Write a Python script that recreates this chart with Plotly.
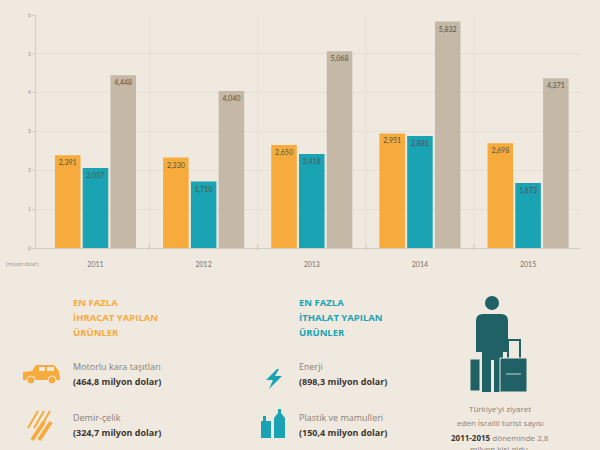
import plotly.graph_objects as go

# Türkiye - İsrail ticareti (milyar dolar)
years = ["2011", "2012", "2013", "2014", "2015"]
ihracat = [2.391, 2.330, 2.650, 2.951, 2.698]
ithalat = [2.057, 1.710, 2.418, 2.881, 1.673]
hacim = [4.448, 4.040, 5.068, 5.832, 4.371]
y_ticks = [0, 1, 2, 3, 4, 5, 6]

ORANGE = "#F6AB3C"
TEAL = "#1AA3B3"
BEIGE = "#C5B8A6"
DARK = "#1F6165"
BG = "#EFE9E0"
FONT = "Open Sans"

W, H = 600, 450
L, R, T, B = 36, 20, 15, 202
PW, PH = W - L - R, H - T - B


def px(x):
    return (x - L) / PW


def py(y):
    return (H - B - y) / PH


def fmt(v):
    return f"{v:.3f}".replace(".", ",")


fig = go.Figure()
for vals, col in [(ihracat, ORANGE), (ithalat, TEAL), (hacim, BEIGE)]:
    fig.add_trace(go.Bar(
        x=years, y=vals, marker=dict(color=col, line=dict(width=0)),
        text=[fmt(v) for v in vals], textposition="inside",
        insidetextanchor="end", textangle=0,
        textfont=dict(size=7, color="#5b5044", family="Lato"),
        hoverinfo="skip", showlegend=False,
    ))

shapes = []
# vertical dividers between years
for i in range(5):
    shapes.append(dict(type="line", xref="x", yref="paper", x0=i + 0.5, x1=i + 0.5,
                       y0=0, y1=1, line=dict(color="#E6DFD5", width=1), layer="below"))
    shapes.append(dict(type="line", xref="x", yref="paper", x0=i + 0.5, x1=i + 0.5,
                       y0=-0.01, y1=0.015, line=dict(color="#CFC7BC", width=1)))

# car icon
shapes += [
    dict(type="path", xref="paper", yref="paper",
         path=f"M {px(23)},{py(380)} L {px(23)},{py(372)} L {px(32)},{py(371)} L {px(36)},{py(365)} "
              f"L {px(54)},{py(365)} L {px(59)},{py(371)} L {px(60)},{py(380)} Z",
         fillcolor=ORANGE, line=dict(width=0)),
    dict(type="circle", xref="paper", yref="paper", x0=px(27), x1=px(35), y0=py(384), y1=py(376),
         fillcolor=ORANGE, line=dict(color=BG, width=1)),
    dict(type="circle", xref="paper", yref="paper", x0=px(48), x1=px(56), y0=py(384), y1=py(376),
         fillcolor=ORANGE, line=dict(color=BG, width=1)),
    dict(type="rect", xref="paper", yref="paper", x0=px(39), x1=px(45), y0=py(371), y1=py(367),
         fillcolor=BG, line=dict(width=0)),
    dict(type="rect", xref="paper", yref="paper", x0=px(47), x1=px(54), y0=py(371), y1=py(367),
         fillcolor=BG, line=dict(width=0)),
]
# iron bars icon
for dx in [0, 6, 12]:
    shapes.append(dict(type="line", xref="paper", yref="paper",
                       x0=px(28 + dx), y0=py(428), x1=px(38 + dx), y1=py(411),
                       line=dict(color=ORANGE, width=2)))
for dx in [0, 7]:
    shapes.append(dict(type="line", xref="paper", yref="paper",
                       x0=px(32 + dx), y0=py(440), x1=px(44 + dx), y1=py(422),
                       line=dict(color=ORANGE, width=4)))
# lightning icon
shapes.append(dict(type="path", xref="paper", yref="paper",
                   path=f"M {px(277)},{py(369)} L {px(266)},{py(380)} L {px(273)},{py(380)} "
                        f"L {px(269)},{py(389)} L {px(282)},{py(376)} L {px(275)},{py(376)} L {px(279)},{py(369)} Z",
                   fillcolor=TEAL, line=dict(width=0)))
# bottles icon
shapes += [
    dict(type="rect", xref="paper", yref="paper", x0=px(261), x1=px(271), y0=py(438), y1=py(421),
         fillcolor=TEAL, line=dict(width=0)),
    dict(type="rect", xref="paper", yref="paper", x0=px(263), x1=px(266), y0=py(421), y1=py(416),
         fillcolor=TEAL, line=dict(width=0)),
    dict(type="path", xref="paper", yref="paper",
         path=f"M {px(274)},{py(438)} L {px(274)},{py(418)} L {px(278)},{py(413)} L {px(278)},{py(409)} "
              f"L {px(281)},{py(409)} L {px(281)},{py(413)} L {px(285)},{py(418)} L {px(285)},{py(438)} Z",
         fillcolor=TEAL, line=dict(width=0)),
]
# traveller icon
shapes += [
    dict(type="circle", xref="paper", yref="paper", x0=px(485), x1=px(499), y0=py(310), y1=py(296),
         fillcolor=DARK, line=dict(width=0)),
    dict(type="path", xref="paper", yref="paper",
         path=f"M {px(476)},{py(352)} L {px(476)},{py(321)} Q {px(476)},{py(314)} {px(483)},{py(314)} "
              f"L {px(501)},{py(314)} Q {px(508)},{py(314)} {px(508)},{py(321)} L {px(508)},{py(352)} "
              f"L {px(503)},{py(352)} L {px(503)},{py(392)} L {px(494)},{py(392)} L {px(494)},{py(360)} "
              f"L {px(491)},{py(360)} L {px(491)},{py(392)} L {px(482)},{py(392)} L {px(482)},{py(352)} Z",
         fillcolor=DARK, line=dict(width=0)),
    dict(type="rect", xref="paper", yref="paper", x0=px(470), x1=px(480), y0=py(391), y1=py(359),
         fillcolor=DARK, line=dict(color=BG, width=1)),
    dict(type="rect", xref="paper", yref="paper", x0=px(508), x1=px(520), y0=py(360), y1=py(340),
         fillcolor="rgba(0,0,0,0)", line=dict(color=DARK, width=2)),
    dict(type="rect", xref="paper", yref="paper", x0=px(500), x1=px(527), y0=py(392), y1=py(358),
         fillcolor=DARK, line=dict(color=BG, width=1)),
    dict(type="line", xref="paper", yref="paper", x0=px(506), x1=px(521), y0=py(374), y1=py(374),
         line=dict(color="#6F9C9C", width=2)),
]

ann = []


def txt(x, y, s, size=9, color="#8a8178", bold=False, anchor="left"):
    ann.append(dict(xref="paper", yref="paper", x=px(x), y=py(y), text=f"<b>{s}</b>" if bold else s,
                    showarrow=False, xanchor=anchor, yanchor="middle",
                    font=dict(size=size, color=color, family=FONT)))


txt(4, 264, "(milyon dolar)", size=5, color="#9a9085")
for i, s in enumerate(["EN FAZLA", "İHRACAT YAPILAN", "ÜRÜNLER"]):
    txt(71, 302 + i * 15, s, size=9.5, color=ORANGE, bold=True)
for i, s in enumerate(["EN FAZLA", "İTHALAT YAPILAN", "ÜRÜNLER"]):
    txt(297, 302 + i * 15, s, size=9.5, color=TEAL, bold=True)
txt(71, 366, "Motorlu kara taşıtları")
txt(71, 381, "(464,8 milyon dolar)", color="#3d3731", bold=True)
txt(71, 417, "Demir-çelik")
txt(71, 433, "(324,7 milyon dolar)", color="#3d3731", bold=True)
txt(297, 366, "Enerji")
txt(297, 381, "(898,3 milyon dolar)", color="#3d3731", bold=True)
txt(297, 417, "Plastik ve mamulleri")
txt(297, 433, "(150,4 milyon dolar)", color="#3d3731", bold=True)
txt(500, 408, "Türkiye'yi ziyaret", size=8, anchor="center")
txt(500, 422, "eden İsrailli turist sayısı", size=8, anchor="center")
txt(500, 437, "<b style='color:#3d3731'>2011-2015</b> döneminde 2,8", size=8, anchor="center")
txt(500, 448, "milyon kişi oldu.", size=8, anchor="center")

fig.update_layout(
    width=W, height=H, margin=dict(l=L, r=R, t=T, b=B),
    paper_bgcolor=BG, plot_bgcolor=BG,
    barmode="group", bargap=0.23, bargroupgap=0.08,
    uniformtext=dict(minsize=6, mode="show"),
    shapes=shapes, annotations=ann,
    xaxis=dict(range=[-0.55, 4.48], showgrid=False, showline=True, linecolor="#D6CEC3",
               ticks="", ticklabelstandoff=10,
               tickfont=dict(size=7, color="#7a7168", family="Lato"), fixedrange=True),
    yaxis=dict(range=[0, 6], tickvals=y_ticks, showgrid=True, gridcolor="#E6DFD5",
               showline=True, linecolor="#D6CEC3", zeroline=False, ticks="outside",
               ticklen=3, tickcolor="#D6CEC3",
               tickfont=dict(size=5, color="#9a9085", family="Lato"), fixedrange=True),
)

# drop the page's default body margin so the figure fills the window
fig.write_html("out.html", config={"displayModeBar": False},
               post_script="document.body.style.margin='0';document.body.style.background='#EFE9E0';")
